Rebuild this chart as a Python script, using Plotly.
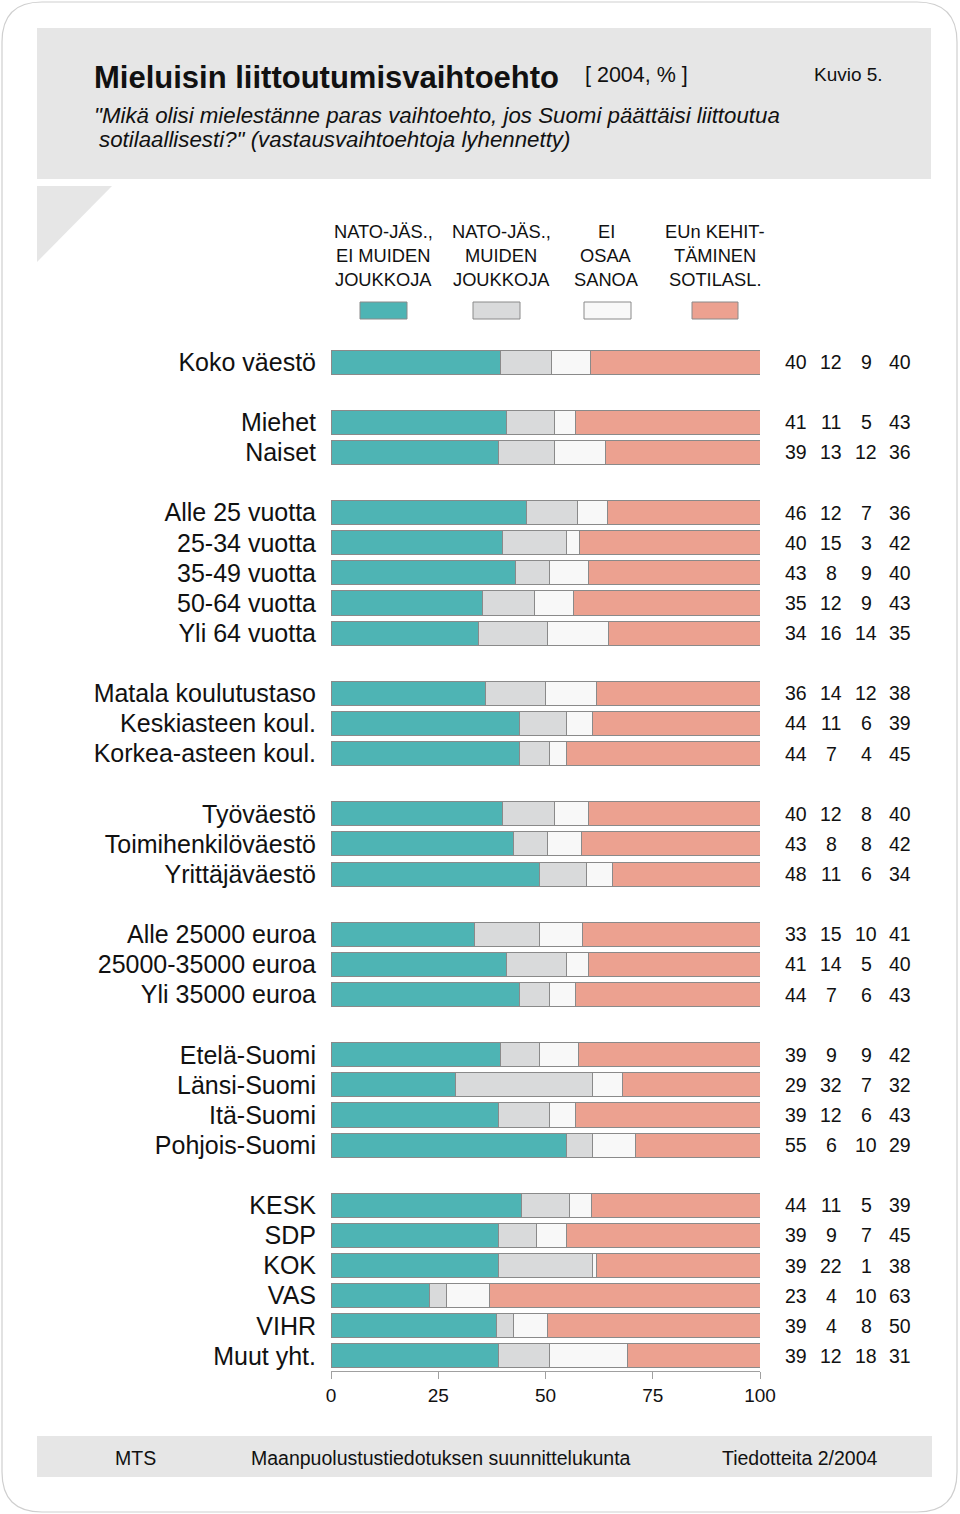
import numpy as np
import plotly.graph_objects as go

# ---------------- data ----------------
groups = [
    ["Koko väestö"],
    ["Miehet", "Naiset"],
    ["Alle 25 vuotta", "25-34 vuotta", "35-49 vuotta", "50-64 vuotta", "Yli 64 vuotta"],
    ["Matala koulutustaso", "Keskiasteen koul.", "Korkea-asteen koul."],
    ["Työväestö", "Toimihenkilöväestö", "Yrittäjäväestö"],
    ["Alle 25000 euroa", "25000-35000 euroa", "Yli 35000 euroa"],
    ["Etelä-Suomi", "Länsi-Suomi", "Itä-Suomi", "Pohjois-Suomi"],
    ["KESK", "SDP", "KOK", "VAS", "VIHR", "Muut yht."],
]
nato_ei_muiden = [40, 41, 39, 46, 40, 43, 35, 34, 36, 44, 44, 40, 43, 48, 33, 41, 44, 39, 29, 39, 55, 44, 39, 39, 23, 39, 39]
nato_muiden    = [12, 11, 13, 12, 15, 8, 12, 16, 14, 11, 7, 12, 8, 11, 15, 14, 7, 9, 32, 12, 6, 11, 9, 22, 4, 4, 12]
ei_osaa        = [9, 5, 12, 7, 3, 9, 9, 14, 12, 6, 4, 8, 8, 6, 10, 5, 6, 9, 7, 6, 10, 5, 7, 1, 10, 8, 18]
eu_sotilasl    = [40, 43, 36, 36, 42, 40, 43, 35, 38, 39, 45, 40, 42, 34, 41, 40, 43, 42, 32, 43, 29, 39, 45, 38, 63, 50, 31]

series_names = ["NATO-JÄS., EI MUIDEN JOUKKOJA", "NATO-JÄS., MUIDEN JOUKKOJA",
                "EI OSAA SANOA", "EUn KEHITTÄMINEN SOTILASL."]
legend_lines = [["NATO-JÄS.,", "EI MUIDEN", "JOUKKOJA"],
                ["NATO-JÄS.,", "MUIDEN", "JOUKKOJA"],
                ["EI", "OSAA", "SANOA"],
                ["EUn KEHIT-", "TÄMINEN", "SOTILASL."]]
colors = ["#4EB4B4", "#D9DADB", "#F8F8F8", "#ECA190"]
x_ticks = [0, 25, 50, 75, 100]

# ---------------- layout helpers ----------------
W, H = 960, 1514
L, R, T, B = 331, 760, 347, 1371          # plot area in pixels


def fx(px):
    return (px - L) / (R - L)


def fy(py):
    return (B - py) / (B - T)


# row positions with a blank row between groups
categories, ypos = [], []
pos = 0
for g in groups:
    for c in g:
        categories.append(c)
        ypos.append(pos)
        pos += 1
    pos += 1
ymax = ypos[-1]

vals = np.array([nato_ei_muiden, nato_muiden, ei_osaa, eu_sotilasl], dtype=float)
shares = vals / vals.sum(axis=0) * 100.0

fig = go.Figure()
for i in range(4):
    fig.add_trace(go.Bar(
        y=ypos, x=shares[i], orientation="h", name=series_names[i],
        marker=dict(color=colors[i], line=dict(color="#8A8A8A", width=1)),
        width=0.8, showlegend=False,
        customdata=vals[i], hovertemplate="%{customdata}<extra></extra>",
    ))

NARROW = "Liberation Sans, Arial, sans-serif"
SANS = "Liberation Sans, Arial, Helvetica, sans-serif"

shapes = []
ann = []

# outer rounded frame
r = 40
x0, x1, y0, y1 = 2, 957, 2, 1512


def P(px, py):
    return f"{fx(px):.5f},{fy(py):.5f}"


path = (f"M {P(x0 + r, y0)} L {P(x1 - r, y0)} Q {P(x1, y0)} {P(x1, y0 + r)} "
        f"L {P(x1, y1 - r)} Q {P(x1, y1)} {P(x1 - r, y1)} "
        f"L {P(x0 + r, y1)} Q {P(x0, y1)} {P(x0, y1 - r)} "
        f"L {P(x0, y0 + r)} Q {P(x0, y0)} {P(x0 + r, y0)} Z")
shapes.append(dict(type="path", xref="paper", yref="paper", path=path,
                   line=dict(color="#CFCFCF", width=1.2), fillcolor="rgba(0,0,0,0)", layer="below"))

# header box
shapes.append(dict(type="rect", xref="paper", yref="paper",
                   x0=fx(37), x1=fx(931), y0=fy(179), y1=fy(28),
                   fillcolor="#E6E6E6", line=dict(width=0), layer="below"))
# triangle
shapes.append(dict(type="path", xref="paper", yref="paper",
                   path=f"M {P(37, 186)} L {P(112, 186)} L {P(37, 262)} Z",
                   fillcolor="#E6E6E6", line=dict(width=0), layer="below"))
# footer box
shapes.append(dict(type="rect", xref="paper", yref="paper",
                   x0=fx(37), x1=fx(932), y0=fy(1477), y1=fy(1436),
                   fillcolor="#E6E6E6", line=dict(width=0), layer="below"))

# header texts
ann.append(dict(text="<b>Mieluisin liittoutumisvaihtoehto</b>", x=fx(92), y=fy(77),
                xanchor="left", yanchor="middle", font=dict(family=NARROW, size=31, color="#111111")))
ann.append(dict(text="[ 2004, % ]", x=fx(583), y=fy(75), xanchor="left", yanchor="middle",
                font=dict(family=NARROW, size=21.5, color="#111111")))
ann.append(dict(text="Kuvio 5.", x=fx(812), y=fy(74), xanchor="left", yanchor="middle",
                font=dict(family=NARROW, size=19, color="#111111")))
ann.append(dict(text="<i>\"Mikä olisi mielestänne paras vaihtoehto, jos Suomi päättäisi liittoutua</i>",
                x=fx(92), y=fy(115), xanchor="left", yanchor="middle",
                font=dict(family=NARROW, size=22.3, color="#111111")))
ann.append(dict(text="<i>sotilaallisesti?\" (vastausvaihtoehtoja lyhennetty)</i>",
                x=fx(97), y=fy(139), xanchor="left", yanchor="middle",
                font=dict(family=NARROW, size=22.3, color="#111111")))

# custom legend
leg_cx = [383, 501, 606, 715]
sw_x = [(360, 407), (473, 520), (584, 631), (692, 738)]
for i in range(4):
    for j, line in enumerate(legend_lines[i]):
        ann.append(dict(text=line, x=fx(leg_cx[i]), y=fy(231 + 24 * j), xanchor="center", yanchor="middle",
                        font=dict(family=NARROW, size=18.3, color="#111111")))
    shapes.append(dict(type="rect", xref="paper", yref="paper",
                       x0=fx(sw_x[i][0]), x1=fx(sw_x[i][1]), y0=fy(319), y1=fy(302),
                       fillcolor=colors[i], line=dict(color="#8A8A8A", width=1)))

# value columns
col_x = [796, 831, 866, 900]
for k, yv in enumerate(ypos):
    for i in range(4):
        ann.append(dict(text=str(int(vals[i][k])), x=fx(col_x[i]), y=yv, yref="y",
                        xanchor="center", yanchor="middle",
                        font=dict(family=SANS, size=19.5, color="#111111")))

# footer texts
ann.append(dict(text="MTS", x=fx(135), y=fy(1458), xanchor="center", yanchor="middle",
                font=dict(family=NARROW, size=19.5, color="#111111")))
ann.append(dict(text="Maanpuolustustiedotuksen suunnittelukunta", x=fx(249), y=fy(1458),
                xanchor="left", yanchor="middle", font=dict(family=NARROW, size=19.5, color="#111111")))
ann.append(dict(text="Tiedotteita 2/2004", x=fx(720), y=fy(1458), xanchor="left", yanchor="middle",
                font=dict(family=NARROW, size=19.5, color="#111111")))

for a in ann:
    a.setdefault("xref", "paper")
    a.setdefault("yref", "paper")
    a["showarrow"] = False

fig.update_layout(
    barmode="stack", bargap=0.2,
    width=W, height=H,
    margin=dict(l=L, r=W - R, t=T, b=H - B, pad=0),
    paper_bgcolor="white", plot_bgcolor="white",
    shapes=shapes, annotations=ann,
    xaxis=dict(range=[0, 100], tickvals=x_ticks, ticktext=[str(t) for t in x_ticks],
               showgrid=False, zeroline=False, showline=True, linecolor="#A0A0A0", linewidth=1.2,
               ticks="outside", ticklen=7, tickcolor="#A0A0A0", tickwidth=1.2,
               tickfont=dict(family=SANS, size=19, color="#111111"), fixedrange=True),
    yaxis=dict(range=[ymax + 0.5, -0.5], tickvals=ypos, ticktext=categories,
               showgrid=False, zeroline=False, showline=False, ticks="outside", ticklen=9,
               tickcolor="rgba(0,0,0,0)", tickfont=dict(family=SANS, size=25, color="#111111"),
               fixedrange=True),
    font=dict(family=SANS),
)

fig.write_html("out.html", config={"displayModeBar": False},
               post_script="document.body.style.margin='0px';document.body.style.overflow='hidden';")
